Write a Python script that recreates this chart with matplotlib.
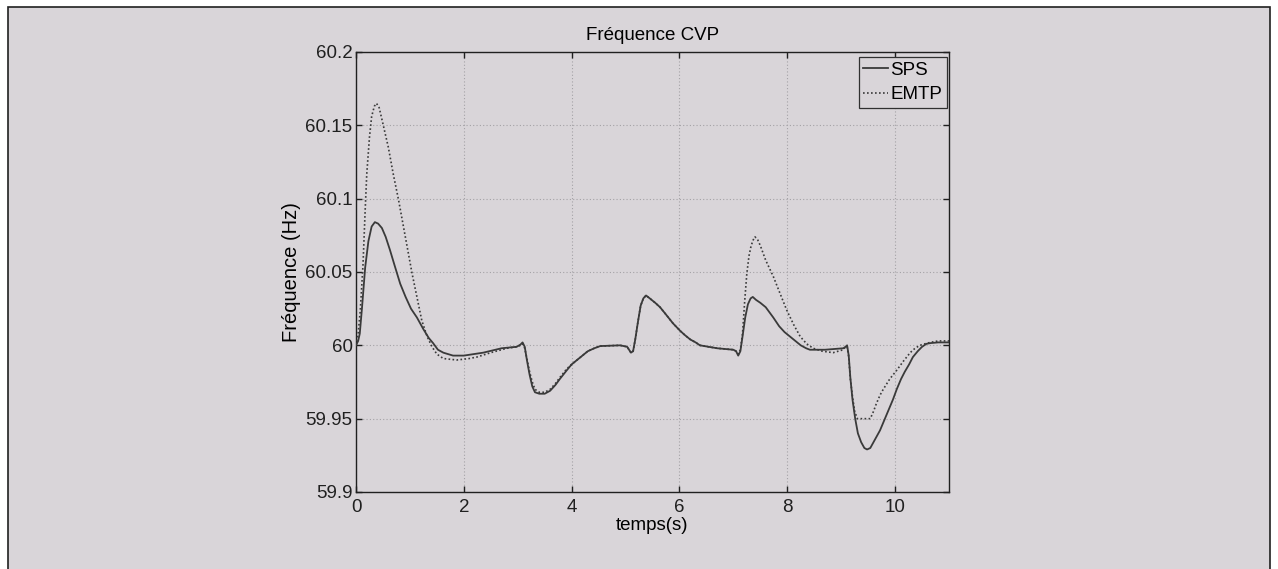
#!/usr/bin/env python3
"""Fréquence CVP — comparaison SPS / EMTP."""

import matplotlib
matplotlib.use('Agg')
import matplotlib.pyplot as plt
from matplotlib.patches import Rectangle

# Couleurs (page scannée)
PAGE = '#d9d5d9'
LINE = '#3a3a3a'
GRID = '#a4a2a6'

plt.rcParams.update({
    'font.family': ['Liberation Sans', 'DejaVu Sans'],
    'font.size': 13.5,
    'axes.unicode_minus': False,
})

# Données
t_sps = [0.0, 0.04, 0.07, 0.11, 0.17, 0.23, 0.29, 0.35, 0.41, 0.48, 0.55,
         0.63, 0.72, 0.82, 0.92, 1.02, 1.13, 1.25, 1.35, 1.43, 1.52, 1.62,
         1.8, 2.0, 2.36, 2.7, 2.98, 3.05, 3.09, 3.13, 3.17, 3.22, 3.27, 3.32,
         3.4, 3.5, 3.6, 3.7, 3.78, 3.91, 4.0, 4.1, 4.2, 4.3, 4.42, 4.53, 4.9,
         5.03, 5.1, 5.14, 5.18, 5.23, 5.28, 5.33, 5.38, 5.45, 5.55, 5.64,
         5.75, 5.88, 6.01, 6.1, 6.2, 6.3, 6.38, 6.7, 7.0, 7.05, 7.09, 7.13,
         7.17, 7.22, 7.27, 7.32, 7.36, 7.42, 7.5, 7.6, 7.74, 7.85, 7.95, 8.05,
         8.15, 8.25, 8.35, 8.42, 8.7, 9.04, 9.08, 9.11, 9.14, 9.17, 9.21,
         9.26, 9.31, 9.37, 9.43, 9.48, 9.54, 9.6, 9.66, 9.72, 9.8, 9.88, 9.96,
         10.03, 10.11, 10.18, 10.26, 10.33, 10.42, 10.5, 10.58, 10.65, 10.8,
         11.0]
f_sps = [60.000, 60.003, 60.008, 60.025, 60.053, 60.071, 60.081, 60.084,
         60.083, 60.080, 60.074, 60.065, 60.054, 60.042, 60.033, 60.025,
         60.019, 60.011, 60.005, 60.0015, 59.997, 59.995, 59.993, 59.993,
         59.995, 59.998, 59.999, 60.0005, 60.002, 59.999, 59.990, 59.980,
         59.972, 59.968, 59.967, 59.967, 59.969, 59.973, 59.977, 59.983,
         59.987, 59.990, 59.993, 59.996, 59.998, 59.9995, 60.000, 59.999,
         59.995, 59.996, 60.004, 60.016, 60.027, 60.032, 60.034, 60.032,
         60.029, 60.026, 60.021, 60.015, 60.010, 60.007, 60.004, 60.002,
         60.000, 59.998, 59.997, 59.996, 59.993, 59.996, 60.006, 60.019,
         60.028, 60.032, 60.033, 60.031, 60.029, 60.026, 60.019, 60.013,
         60.009, 60.006, 60.003, 60.000, 59.998, 59.997, 59.997, 59.998,
         59.999, 60.000, 59.993, 59.978, 59.963, 59.950, 59.940, 59.934,
         59.930, 59.929, 59.930, 59.934, 59.938, 59.942, 59.949, 59.956,
         59.963, 59.970, 59.977, 59.982, 59.987, 59.992, 59.996, 59.999,
         60.001, 60.0015, 60.002, 60.002]

t_emtp = [0.0, 0.04, 0.08, 0.13, 0.17, 0.2, 0.25, 0.29, 0.34, 0.38, 0.43, 0.5,
          0.6, 0.69, 0.79, 0.88, 0.96, 1.04, 1.13, 1.22, 1.32, 1.41, 1.5,
          1.62, 1.87, 2.1, 2.24, 2.5, 2.8, 2.98, 3.05, 3.09, 3.13, 3.17, 3.22,
          3.27, 3.32, 3.4, 3.5, 3.6, 3.7, 3.78, 3.91, 4.0, 4.1, 4.2, 4.3, 4.42,
          4.53, 4.9, 5.03, 5.1, 5.14, 5.18, 5.23, 5.28, 5.33, 5.38, 5.45, 5.55,
          5.64, 5.75, 5.88, 6.01, 6.1, 6.2, 6.3, 6.38, 6.7, 7.0, 7.05, 7.09,
          7.13, 7.17, 7.21, 7.25, 7.29, 7.33, 7.37, 7.4, 7.45, 7.5, 7.6, 7.74,
          7.87, 7.99, 8.12, 8.24, 8.36, 8.48, 8.65, 8.85, 9.04, 9.08, 9.11,
          9.14, 9.17, 9.21, 9.25, 9.3, 9.54, 9.6, 9.65, 9.72, 9.78, 9.9,
          10.03, 10.15, 10.28, 10.37, 10.46, 10.55, 10.65, 10.8, 11.0]
f_emtp = [60.000, 60.008, 60.024, 60.055, 60.092, 60.117, 60.142, 60.156,
          60.163, 60.165, 60.162, 60.151, 60.135, 60.117, 60.099, 60.081,
          60.065, 60.049, 60.033, 60.017, 60.006, 59.999, 59.994, 59.991,
          59.990, 59.991, 59.992, 59.995, 59.998, 59.999, 60.000, 60.001,
          59.998, 59.991, 59.982, 59.975, 59.970, 59.968, 59.968, 59.970,
          59.974, 59.978, 59.984, 59.987, 59.990, 59.993, 59.996, 59.998,
          59.9995, 60.000, 59.999, 59.995, 59.996, 60.004, 60.016, 60.027,
          60.032, 60.034, 60.032, 60.029, 60.026, 60.021, 60.015, 60.010,
          60.007, 60.004, 60.002, 60.000, 59.998, 59.997, 59.996, 59.994,
          59.997, 60.008, 60.030, 60.049, 60.061, 60.068, 60.072, 60.074,
          60.072, 60.068, 60.058, 60.047, 60.035, 60.024, 60.014, 60.006,
          60.001, 59.998, 59.996, 59.995, 59.997, 59.999, 59.999, 59.992,
          59.977, 59.965, 59.955, 59.950, 59.950, 59.955, 59.960, 59.966,
          59.970, 59.977, 59.983, 59.989, 59.995, 59.998, 60.000, 60.001,
          60.002, 60.003, 60.003]

x_ticks = [0, 2, 4, 6, 8, 10]
y_ticks = [59.9, 59.95, 60.0, 60.05, 60.1, 60.15, 60.2]
y_labels = ['59.9', '59.95', '60', '60.05', '60.1', '60.15', '60.2']

# --- Figure ---
W, H = 1278, 569
fig = plt.figure(figsize=(W / 100, H / 100), dpi=100, facecolor='white')

# Cadre de la page scannée (derrière les axes)
cadre = Rectangle(
    (8 / W, -0.01), (1270 - 8) / W, 1 - 7 / H + 0.01,
    transform=fig.transFigure, facecolor=PAGE, edgecolor='#202020',
    linewidth=1.2, zorder=-10,
)
fig.add_artist(cadre)

ax = fig.add_axes([356 / W, 1 - 492 / H, (949 - 356) / W, (492 - 52) / H])
ax.set_zorder(1)
ax.set_facecolor(PAGE)

ax.plot(t_sps, f_sps, color=LINE, linewidth=1.3, label='SPS', zorder=3)
ax.plot(t_emtp, f_emtp, color=LINE, linewidth=1.2,
        linestyle=(0, (1, 1.4)), label='EMTP', zorder=3)

ax.set_xlim(0, 11)
ax.set_ylim(59.9, 60.2)
ax.set_xticks(x_ticks)
ax.set_yticks(y_ticks)
ax.set_yticklabels(y_labels)
ax.tick_params(direction='in', length=4, width=1, top=True, right=True,
               colors='#202020', labelsize=13.5)
ax.tick_params(axis='x', pad=5)
ax.tick_params(axis='y', pad=2.5)

ax.grid(True, linestyle=(0, (1, 2)), linewidth=0.8, color=GRID)
ax.set_axisbelow(True)
for s in ax.spines.values():
    s.set_color('#202020')
    s.set_linewidth(1.0)

ax.set_title('Fréquence CVP', fontsize=13.5, pad=9)
ax.set_xlabel('temps(s)', fontsize=13.5, labelpad=1)
ax.set_ylabel('Fréquence (Hz)', fontsize=14.5, labelpad=3)

leg = ax.legend(loc='upper right', bbox_to_anchor=(0.9966, 0.9886),
                fontsize=13.5, frameon=True, fancybox=False,
                edgecolor='#303030', facecolor=PAGE, framealpha=1,
                handlelength=1.3, handletextpad=0.15, borderpad=0.25,
                labelspacing=0.4, borderaxespad=0)
leg.get_frame().set_linewidth(0.9)

fig.savefig('out.png', dpi=100, facecolor='white')
plt.close(fig)
